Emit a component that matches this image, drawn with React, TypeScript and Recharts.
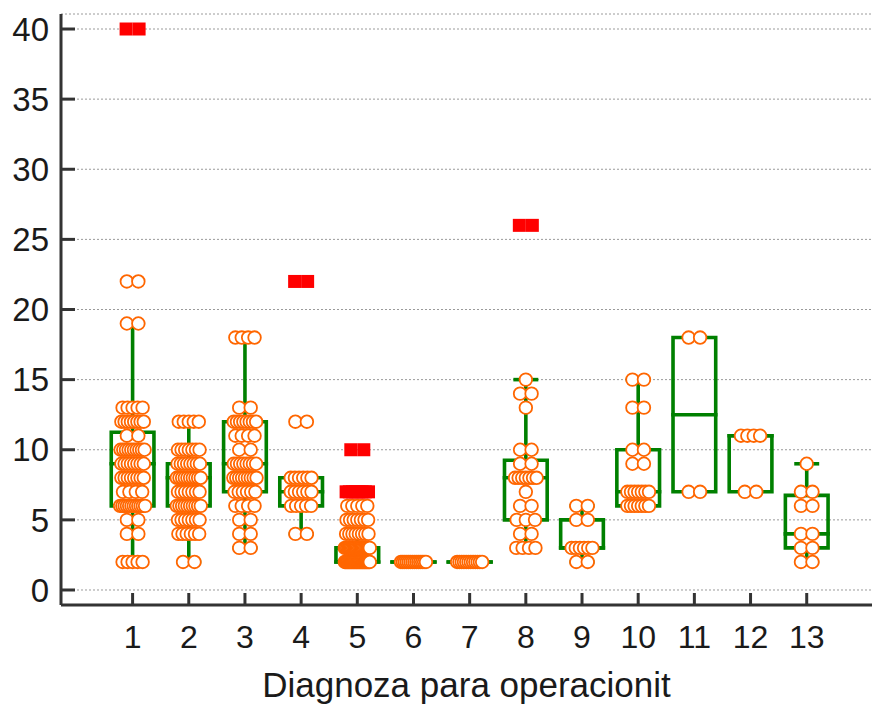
import { ComposedChart, Scatter, XAxis, YAxis, CartesianGrid, ReferenceArea, ReferenceLine } from 'recharts'

// length of stay by diagnosis group: [days, number of patients]
const dg1: [number, number][] = [[2, 5], [4, 2], [5, 2], [6, 12], [7, 4], [8, 8], [9, 8], [10, 10], [11, 2], [12, 8], [13, 5], [19, 2], [22, 2]]
const dg2: [number, number][] = [[2, 2], [4, 6], [5, 7], [6, 10], [7, 7], [8, 10], [9, 8], [10, 7], [12, 5]]
const dg3: [number, number][] = [[3, 2], [4, 2], [5, 2], [6, 4], [7, 6], [8, 9], [9, 8], [10, 2], [11, 4], [12, 8], [13, 2], [18, 4]]
const dg4: [number, number][] = [[4, 2], [6, 5], [7, 6], [8, 6], [12, 2]]
const dg5: [number, number][] = [[2, 30], [3, 22], [4, 8], [5, 7], [6, 5]]
const dg6: [number, number][] = [[2, 14]]
const dg7: [number, number][] = [[2, 12]]
const dg8: [number, number][] = [[3, 4], [4, 2], [5, 3], [6, 2], [7, 1], [8, 7], [9, 2], [10, 2], [13, 1], [14, 2], [15, 1]]
const dg9: [number, number][] = [[2, 2], [3, 6], [5, 2], [6, 2]]
const dg10: [number, number][] = [[6, 7], [7, 7], [9, 2], [10, 2], [13, 2], [15, 2]]
const dg11: [number, number][] = [[7, 2], [18, 2]]
const dg12: [number, number][] = [[7, 2], [11, 4]]
const dg13: [number, number][] = [[2, 2], [3, 2], [4, 2], [6, 2], [7, 2], [9, 1]]

// far-out values: [group, days, count]
const farOut: [number, number, number][] = [[1, 40, 2], [4, 22, 2], [5, 10, 2], [5, 7, 8], [8, 26, 2]]

const groups = [1, 2, 3, 4, 5, 6, 7, 8, 9, 10, 11, 12, 13]
const q1 = [6, 6, 7, 6, 2, 2, 2, 5, 3, 6, 7, 7, 3]
const median = [9, 8, 9, 7, 2, 2, 2, 8, 3, 7, 12.5, 11, 4]
const q3 = [11.25, 9, 12, 8, 3, 2, 2, 9.25, 5, 10, 18, 11, 6.75]
const whiskerLow = [2, 2, 3, 4, 2, 2, 2, 3, 2, 6, 7, 7, 2]
const whiskerHigh = [19, 12, 18, 8, 4, 2, 2, 15, 6, 15, 18, 11, 9]

const yTicks = [0, 5, 10, 15, 20, 25, 30, 35, 40]

const GREEN = '#008000'
const ORANGE = '#ff6600'
const AXIS = '#333333'
const FONT = '"Liberation Sans", Arial, sans-serif'
const BOX_HALF = 0.38
const CAP_HALF = 0.19

const allGroups = [dg1, dg2, dg3, dg4, dg5, dg6, dg7, dg8, dg9, dg10, dg11, dg12, dg13]

const points = allGroups.flatMap((rows, gi) =>
  rows.flatMap(([value, count]) =>
    Array.from({ length: count }, (_, rank) => ({ x: groups[gi], y: value, rank, n: count }))
  )
)

const outliers = farOut.flatMap(([g, value, count]) =>
  Array.from({ length: count }, (_, rank) => ({ x: g, y: value, rank, n: count }))
)

// horizontal spread of a row of equal values, in pixels
const rowSpread = (n: number) => (n < 2 ? 0 : n === 2 ? 11.5 : Math.min(25, 16 + 0.8 * n))
const rowOffset = (rank: number, n: number) => (n < 2 ? 0 : -rowSpread(n) / 2 + (rank * rowSpread(n)) / (n - 1))

const Dot = (props: any) => {
  const { cx, cy, payload } = props
  return (
    <circle
      cx={cx + rowOffset(payload.rank, payload.n)}
      cy={cy}
      r={6.3}
      fill="#fff"
      stroke={ORANGE}
      strokeWidth={1.8}
    />
  )
}

const Square = (props: any) => {
  const { cx, cy, payload } = props
  const off = payload.n === 2 ? (payload.rank - 0.5) * 13 : rowOffset(payload.rank, payload.n)
  return <rect x={cx + off - 6.5} y={cy - 6.5} width={13} height={13} fill="#ff0000" />
}

const XTick = (props: any) => {
  const { x, y, payload } = props
  return (
    <text x={x} y={y} dy="0.71em" textAnchor="middle" fontSize={32} fontFamily={FONT} fill="#1a1a1a">
      {payload.value}
    </text>
  )
}

const lineStyle = { stroke: GREEN, strokeWidth: 3.6, strokeLinecap: 'square' as const }

export default function App() {
  return (
    <div style={{ position: 'absolute', left: 0, top: 0, background: '#fff' }}>
      <ComposedChart width={872} height={707} margin={{ top: 14, right: 0, bottom: 0, left: 0 }}>
        <CartesianGrid horizontal vertical={false} stroke="#9a9a9a" strokeDasharray="2 2" />
        <XAxis
          type="number"
          dataKey="x"
          domain={[-0.2745, 14.162]}
          ticks={groups}
          allowDataOverflow
          height={102}
          tickSize={-12}
          tickMargin={32}
          tick={<XTick />}
          axisLine={{ stroke: AXIS, strokeWidth: 3 }}
          tickLine={{ stroke: AXIS, strokeWidth: 3 }}
          label={{
            value: 'Diagnoza para operacionit',
            position: 'insideBottom',
            offset: 10,
            fontSize: 35,
            fontFamily: FONT,
            fill: '#1a1a1a',
          }}
        />
        <YAxis
          type="number"
          dataKey="y"
          domain={[-1.07, 41.07]}
          ticks={yTicks}
          allowDataOverflow
          width={61}
          tickSize={-14}
          tickMargin={26}
          tick={{ fontSize: 33, fontFamily: FONT, fill: '#1a1a1a' }}
          axisLine={{ stroke: AXIS, strokeWidth: 3 }}
          tickLine={{ stroke: AXIS, strokeWidth: 3 }}
        />

        {groups.map((g, i) =>
          q3[i] > q1[i] ? (
            <ReferenceArea
              key={`box${g}`}
              x1={g - BOX_HALF}
              x2={g + BOX_HALF}
              y1={q1[i]}
              y2={q3[i]}
              fill="none"
              fillOpacity={0}
              {...lineStyle}
            />
          ) : (
            <ReferenceLine
              key={`box${g}`}
              segment={[{ x: g - BOX_HALF, y: q1[i] }, { x: g + BOX_HALF, y: q1[i] }]}
              {...lineStyle}
            />
          )
        )}
        {groups.map((g, i) => (
          <ReferenceLine
            key={`med${g}`}
            segment={[{ x: g - BOX_HALF, y: median[i] }, { x: g + BOX_HALF, y: median[i] }]}
            {...lineStyle}
          />
        ))}
        {groups.map((g, i) =>
          whiskerHigh[i] > q3[i] ? (
            <ReferenceLine key={`wh${g}`} segment={[{ x: g, y: q3[i] }, { x: g, y: whiskerHigh[i] }]} {...lineStyle} />
          ) : null
        )}
        {groups.map((g, i) =>
          whiskerHigh[i] > q3[i] ? (
            <ReferenceLine
              key={`capH${g}`}
              segment={[{ x: g - CAP_HALF, y: whiskerHigh[i] }, { x: g + CAP_HALF, y: whiskerHigh[i] }]}
              {...lineStyle}
            />
          ) : null
        )}
        {groups.map((g, i) =>
          whiskerLow[i] < q1[i] ? (
            <ReferenceLine key={`wl${g}`} segment={[{ x: g, y: q1[i] }, { x: g, y: whiskerLow[i] }]} {...lineStyle} />
          ) : null
        )}
        {groups.map((g, i) =>
          whiskerLow[i] < q1[i] ? (
            <ReferenceLine
              key={`capL${g}`}
              segment={[{ x: g - CAP_HALF, y: whiskerLow[i] }, { x: g + CAP_HALF, y: whiskerLow[i] }]}
              {...lineStyle}
            />
          ) : null
        )}

        <Scatter data={points} shape={<Dot />} isAnimationActive={false} />
        <Scatter data={outliers} shape={<Square />} isAnimationActive={false} />
      </ComposedChart>
    </div>
  )
}
